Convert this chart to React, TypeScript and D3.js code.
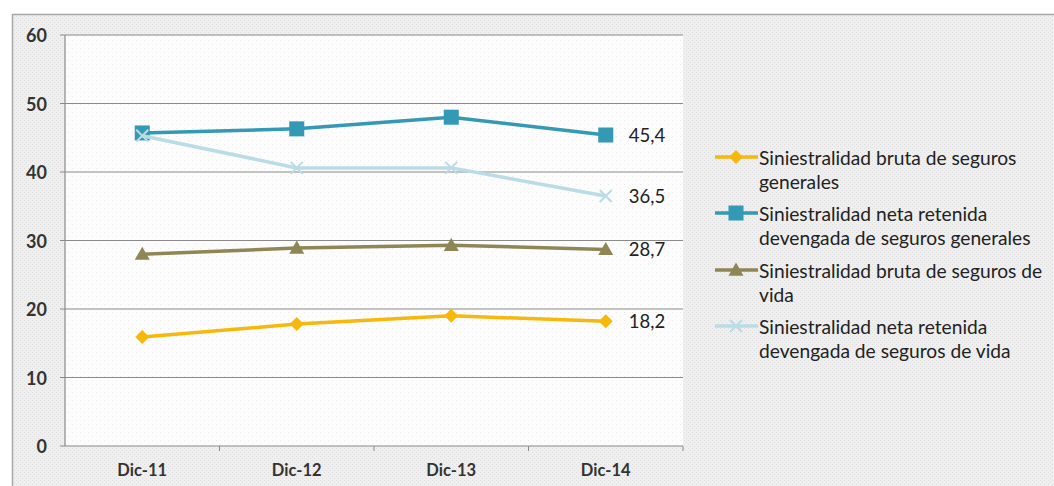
import React from "react";
import * as d3 from "d3";

const categories = ["Dic-11", "Dic-12", "Dic-13", "Dic-14"];
const yTicks = [0, 10, 20, 30, 40, 50, 60];

const brutaGenerales = [15.9, 17.8, 19.0, 18.2];
const netaGenerales = [45.7, 46.3, 48.0, 45.4];
const brutaVida = [28.0, 28.9, 29.3, 28.7];
const netaVida = [45.3, 40.6, 40.6, 36.5];

const seriesNames = [
  ["Siniestralidad bruta de seguros", "generales"],
  ["Siniestralidad neta retenida", "devengada de seguros generales"],
  ["Siniestralidad bruta de seguros de", "vida"],
  ["Siniestralidad neta retenida", "devengada de seguros de vida"],
];

type Series = { values: number[]; color: string; marker: string; name: string[] };

const series: Series[] = [
  { values: brutaGenerales, color: "#F7B80C", marker: "diamond", name: seriesNames[0] },
  { values: netaGenerales, color: "#3399B4", marker: "square", name: seriesNames[1] },
  { values: brutaVida, color: "#8E8755", marker: "triangle", name: seriesNames[2] },
  { values: netaVida, color: "#B9DCE6", marker: "x", name: seriesNames[3] },
];

const W = 1054;
const H = 486;
const plot = { left: 65, right: 683, top: 35, bottom: 446 };
const FONT = "Lato, 'Open Sans', sans-serif";

function Marker({ type, x, y, color }: { type: string; x: number; y: number; color: string }) {
  if (type === "diamond") {
    const s = 7;
    return <path d={`M${x},${y - s}L${x + s},${y}L${x},${y + s}L${x - s},${y}Z`} fill={color} />;
  }
  if (type === "square") {
    const s = 7.5;
    return <rect x={x - s} y={y - s} width={2 * s} height={2 * s} fill={color} />;
  }
  if (type === "triangle") {
    const s = 7.5;
    return <path d={`M${x},${y - s}L${x + s},${y + s * 0.75}L${x - s},${y + s * 0.75}Z`} fill={color} />;
  }
  const s = 6;
  return (
    <path
      d={`M${x - s},${y - s}L${x + s},${y + s}M${x - s},${y + s}L${x + s},${y - s}`}
      stroke={color}
      strokeWidth={2}
    />
  );
}

export default function App() {
  const x = d3.scaleBand<string>().domain(categories).range([plot.left, plot.right]);
  const y = d3.scaleLinear().domain([0, 60]).range([plot.bottom, plot.top]);
  const cx = (c: string) => (x(c) ?? 0) + x.bandwidth() / 2;
  const line = d3
    .line<number>()
    .x((_, i) => cx(categories[i]))
    .y((v) => y(v));

  const legendX = 715;
  const legendY = [157, 213, 270, 326];

  return (
    <svg
      width={W}
      height={H}
      style={{ position: "absolute", left: 0, top: 0, display: "block" }}
      fontFamily={FONT}
    >
      <defs>
        <pattern id="outerPat" width="4" height="4" patternUnits="userSpaceOnUse">
          <rect width="4" height="4" fill="#efefef" />
          <rect x="0" y="0" width="1" height="1" fill="#dedede" />
          <rect x="2" y="2" width="1" height="1" fill="#dedede" />
        </pattern>
        <pattern id="plotPat" width="8" height="8" patternUnits="userSpaceOnUse">
          <rect width="8" height="8" fill="#fcfcfc" />
          <rect x="0" y="0" width="1" height="1" fill="#e6e6e6" />
          <rect x="4" y="4" width="1" height="1" fill="#ececec" />
        </pattern>
      </defs>
      <rect x={0} y={0} width={W} height={H} fill="#ffffff" />
      <rect x={12.5} y={14.5} width={W} height={H} fill="url(#outerPat)" stroke="#a8a8a8" strokeWidth={1.5} />
      <rect
        x={plot.left}
        y={plot.top}
        width={plot.right - plot.left}
        height={plot.bottom - plot.top}
        fill="url(#plotPat)"
      />

      {yTicks.map((t) => (
        <g key={t}>
          <line x1={plot.left} x2={plot.right} y1={y(t)} y2={y(t)} stroke="#8a8a8a" strokeWidth={1.2} />
          <line x1={plot.left - 5} x2={plot.left} y1={y(t)} y2={y(t)} stroke="#8a8a8a" />
          <text
            x={47}
            y={y(t)}
            textAnchor="end"
            dominantBaseline="central"
            fontSize={18}
            fontWeight="bold"
            fill="#333"
          >
            {t}
          </text>
        </g>
      ))}
      <line x1={plot.left} x2={plot.left} y1={plot.top} y2={plot.bottom} stroke="#8a8a8a" strokeWidth={1.2} />
      {categories.map((c, i) => (
        <g key={c}>
          <line
            x1={plot.left + x.step() * (i + 1)}
            x2={plot.left + x.step() * (i + 1)}
            y1={plot.bottom}
            y2={plot.bottom + 5}
            stroke="#8a8a8a"
          />
          <text x={cx(c)} y={470} textAnchor="middle" dominantBaseline="central" fontSize={16.5} fontWeight="bold" fill="#333">
            {c}
          </text>
        </g>
      ))}

      {series.map((s, si) => (
        <g key={si}>
          <path d={line(s.values) ?? ""} fill="none" stroke={s.color} strokeWidth={3.5} />
          {s.values.map((v, i) => (
            <Marker key={i} type={s.marker} x={cx(categories[i])} y={y(v)} color={s.color} />
          ))}
          <text
            x={cx(categories[3]) + 23}
            y={y(s.values[3])}
            dominantBaseline="central"
            fontSize={18.5}
            fill="#222"
          >
            {s.values[3].toFixed(1).replace(".", ",")}
          </text>
        </g>
      ))}

      {series.map((s, si) => (
        <g key={si}>
          <line x1={legendX} x2={legendX + 43} y1={legendY[si]} y2={legendY[si]} stroke={s.color} strokeWidth={3.5} />
          <Marker type={s.marker} x={legendX + 21} y={legendY[si]} color={s.color} />
          <text x={legendX + 44} y={legendY[si]} dominantBaseline="central" fontSize={19.2} fill="#222">
            {s.name[0]}
          </text>
          <text x={legendX + 44} y={legendY[si] + 24} dominantBaseline="central" fontSize={19.2} fill="#222">
            {s.name[1]}
          </text>
        </g>
      ))}
    </svg>
  );
}
